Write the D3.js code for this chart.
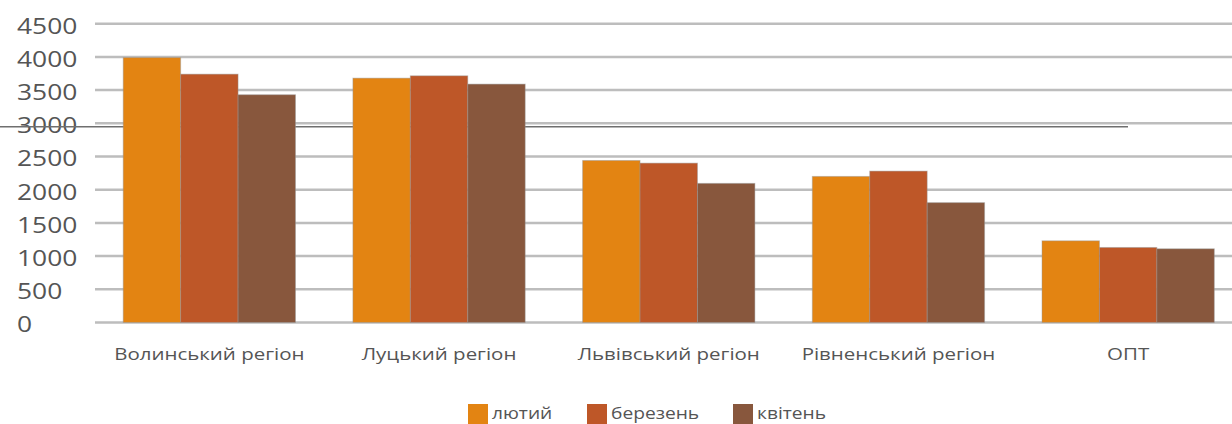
<!DOCTYPE html>
<html><head><meta charset="utf-8">
<script src="https://cdn.jsdelivr.net/npm/d3@7"></script>
<style>
body{margin:0;background:#fff;}
svg{display:block;}
text{font-family:"Open Sans",sans-serif;fill:#555;}
</style></head>
<body>
<svg id="c" width="1232" height="424"></svg>
<script>
const categories = ["Волинський регіон","Луцький регіон","Львівський регіон","Рівненський регіон","ОПТ"];
const seriesNames = ["лютий","березень","квітень"];
const lutyi   = [3990, 3680, 2440, 2200, 1230];
const berezen = [3740, 3715, 2400, 2280, 1130];
const kviten  = [3430, 3590, 2095, 1805, 1110];
const yTicks = [0,500,1000,1500,2000,2500,3000,3500,4000,4500];
const colors = ["#E38412","#BE5728","#88573D"];

const values = [lutyi, berezen, kviten];
const svg = d3.select("#c");
const x0 = d3.scaleBand().domain(categories).range([94.5, 1243]).paddingInner(0.25).paddingOuter(0.125);
const x1 = d3.scaleBand().domain(seriesNames).range([0, x0.bandwidth()]);
const y = d3.scaleLinear().domain([0,4500]).range([322.5, 23.7]);

// gridlines
svg.append("g").selectAll("line").data(yTicks).join("line")
  .attr("x1", 95).attr("x2", 1232)
  .attr("y1", d=>y(d)).attr("y2", d=>y(d))
  .attr("stroke", "#BDBDBD").attr("stroke-width", 2.5);

// y labels
svg.append("g").selectAll("text").data(yTicks).join("text")
  .attr("x", 17).attr("y", d=>y(d)+2)
  .attr("dy","0.36em")
  .style("font-size","22px")
  .attr("transform", `translate(17,0) scale(1.2,1) translate(-17,0)`)
  .text(d=>d);

// stray dark line
svg.append("line").attr("x1",0).attr("x2",1128).attr("y1",126.8).attr("y2",126.8)
  .attr("stroke","#6f6f6f").attr("stroke-width",1.6);

// bars
const groups = svg.append("g").selectAll("g").data(categories).join("g")
  .attr("transform", d=>`translate(${x0(d)},0)`);
groups.selectAll("rect").data((c,i)=>seriesNames.map((s,j)=>({s, v: values[j][i], j})))
  .join("rect")
  .attr("x", d=>x1(d.s)).attr("width", x1.bandwidth())
  .attr("y", d=>y(d.v)).attr("height", d=>y(0)-y(d.v))
  .attr("fill", d=>colors[d.j])
  .attr("stroke","rgba(150,150,150,0.45)").attr("stroke-width",1);

// x labels
svg.append("g").selectAll("text").data(categories).join("text")
  .attr("x", d=>x0(d)+x0.bandwidth()/2).attr("y", 360)
  .attr("text-anchor","middle")
  .style("font-size","16px")
  .attr("transform", d=>{const cx=x0(d)+x0.bandwidth()/2; return `translate(${cx},0) scale(1.28,1) translate(${-cx},0)`;})
  .text(d=>d);

// legend
const legX = [468, 587, 733];
const leg = svg.append("g").selectAll("g").data(seriesNames).join("g")
  .attr("transform",(d,i)=>`translate(${legX[i]},404)`);
leg.append("rect").attr("width",20).attr("height",20).attr("fill",(d,i)=>colors[i]);
leg.append("text").attr("x",24).attr("y",15).style("font-size","16px")
  .attr("transform","translate(24,0) scale(1.2,1) translate(-24,0)")
  .text(d=>d);
</script>
</body></html>
